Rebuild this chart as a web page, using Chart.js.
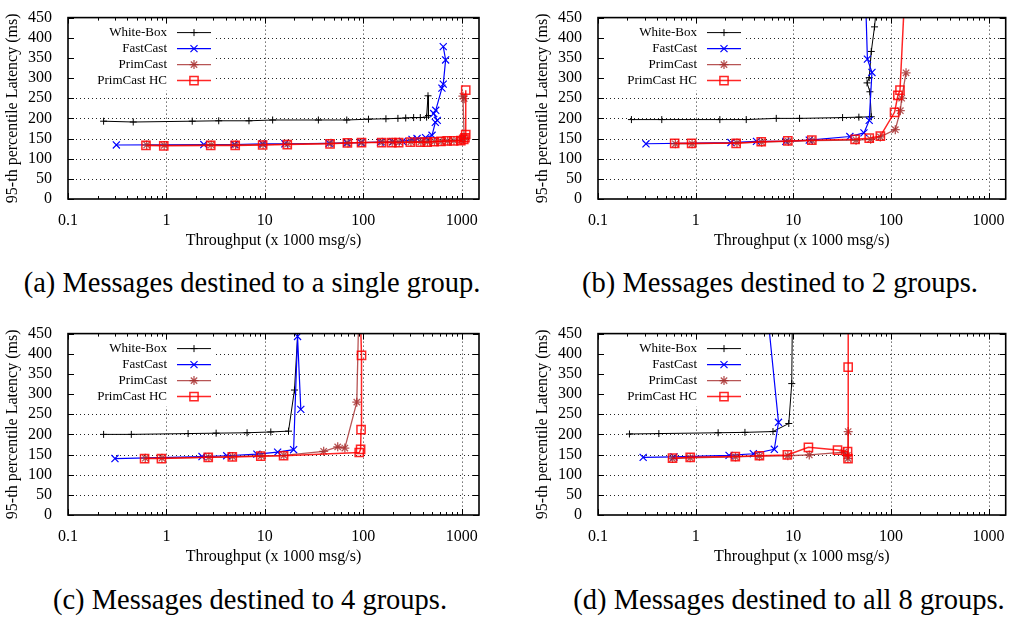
<!DOCTYPE html>
<html>
<head>
<meta charset="utf-8">
<script src="https://cdn.jsdelivr.net/npm/chart.js@4.4.1/dist/chart.umd.min.js"></script>
<style>
body{margin:0;background:#fff;width:1013px;height:621px;position:relative;overflow:hidden}
canvas{position:absolute}
.cap{position:absolute;font-family:'Liberation Serif',serif;font-size:28.5px;line-height:1;white-space:nowrap;transform:translateX(-50%);color:#000}
</style>
</head>
<body>
<canvas id="grafA" width="500" height="250" style="left:0;top:0"></canvas>
<canvas id="grafB" width="513" height="250" style="left:500px;top:0"></canvas>
<canvas id="grafC" width="500" height="250" style="left:0;top:316px"></canvas>
<canvas id="grafD" width="513" height="250" style="left:500px;top:316px"></canvas>
<div class="cap" style="left:252px;top:269px">(a) Messages destined to a single group.</div>
<div class="cap" style="left:780px;top:269px">(b) Messages destined to 2 groups.</div>
<div class="cap" style="left:250px;top:586px">(c) Messages destined to 4 groups.</div>
<div class="cap" style="left:789px;top:586px">(d) Messages destined to all 8 groups.</div>
<script>
// etiquetas y ticks
const seriesNames = ['White-Box', 'FastCast', 'PrimCast', 'PrimCast HC'];
const xTickValues = [0.1, 1, 10, 100, 1000];
const xTickLabels = ['0.1', '1', '10', '100', '1000'];
const yTickValues = [0, 50, 100, 150, 200, 250, 300, 350, 400, 450];

// (a) un solo grupo  [throughput, latencia]
const whiteBoxA = [[0.23,193],[0.46,191],[1.83,193],[3.4,194],[6.9,194],[12,196],[35,196],[68,196],[113,198],[170,199],[225,200],[270,201],[325,202],[380,202],[440,203],[455,256],[460,207]];
const fastCastA = [[0.31,134],[2.4,135],[4.9,135],[9.5,137],[16,137],[45,138],[68,139],[95,140],[150,141],[200,142],[250,143],[313,148],[352,150],[430,152],[500,158],[540,190],[565,195],[520,212],[545,220],[630,275],[650,285],[687,345],[650,378]];
const primCastA = [[0.63,134],[0.95,133],[2.85,134],[5.05,134],[9.6,135],[17,136],[47,138],[70,139],[97,140],[156,141],[197,141],[232,141],[305,142],[385,142],[450,142],[530,143],[620,143],[720,144],[835,145],[990,146],[1040,149],[1060,153],[1030,255],[1060,249]];
const primCastHcA = [[0.62,133],[0.94,132],[2.82,133],[5.0,133],[9.5,134],[16.9,135],[46,137],[69,139],[96,140],[154,140],[195,140],[229,140],[301,141],[381,141],[446,141],[524,142],[616,143],[711,144],[828,144],[980,145],[1050,148],[1080,152],[1100,160],[1100,270]];

// (b) 2 grupos
const whiteBoxB = [[0.22,197],[0.45,197],[1.77,197],[3.3,197],[6.7,200],[11.6,200],[32,202],[47,203],[63,204],[61,266],[57,288],[60,301],[63,366],[68,427],[72,490]];
const fastCastB = [[0.31,137],[2.3,140],[4.2,143],[8.4,143],[14.6,146],[38,155],[53,164],[60,195],[64,314],[57.5,347],[55,500]];
const primCastB = [[0.62,137],[0.92,137],[2.65,139],[4.75,141],[8.9,143],[15.6,145],[44,146],[62,148],[78,154],[111,172],[125,219],[129,250],[143,313]];
const primCastHcB = [[0.61,138],[0.91,138],[2.6,138],[4.7,142],[8.8,144],[15.5,146],[43,148],[60,151],[78,156],[109,215],[118,257],[124,270],[140,530]];

// (c) 4 grupos
const whiteBoxC = [[0.23,200],[0.44,200],[1.66,202],[3.2,203],[6.6,204],[11.5,206],[17.4,208],[20,310],[22.2,500]];
const fastCastC = [[0.3,140],[2.3,145],[4.1,147],[8.3,151],[13.5,156],[19.6,162],[21.5,443],[23.2,262]];
const primCastC = [[0.61,141],[0.9,141],[2.7,143],[4.7,145],[9.2,147],[15.6,148],[39.6,158],[55,169],[65,166],[86,280],[90,500]];
const primCastHcC = [[0.6,140],[0.89,140],[2.66,143],[4.67,144],[9.1,146],[15.5,147],[91,155],[94,163],[95,212],[96,396],[93,520]];

// (d) 8 grupos
const whiteBoxD = [[0.21,201],[0.42,202],[1.7,204],[3.2,205],[6.2,207],[9.0,227],[9.65,326],[9.8,500]];
const fastCastD = [[0.29,143],[0.6,144],[2.2,148],[3.9,152],[6.4,163],[7.06,230],[5.3,530]];
const primCastD = [[0.58,140],[0.88,142],[2.56,144],[4.5,146],[8.8,147],[14.6,149],[33,156],[35.8,148],[36.3,140],[36.5,207]];
const primCastHcD = [[0.58,141],[0.88,143],[2.55,145],[4.5,147],[8.7,149],[14.3,168],[28.4,161],[36,157],[36.4,140],[36.5,367],[36.6,520]];

const fuente = 'Liberation Serif';
Chart.defaults.font.family = fuente;
Chart.defaults.font.size = 16;
Chart.defaults.color = '#000';

const estilos = [
    {color: '#000000', point: 'cross', radius: 3.5, lw: 1, pw: 1},
    {color: '#0000ff', point: 'crossRot', radius: 5, lw: 1.2, pw: 1.2},
    {color: 'rgba(165,42,42,0.8)', point: 'star', radius: 4.5, lw: 1.3, pw: 1.3},
    {color: 'rgba(255,0,0,0.85)', point: 'rect', radius: 5.8, lw: 1.5, pw: 1.5}
];

const ticksMenores = () => {
    const t = [];
    xTickValues.forEach(v => {
        for (let m = 1; m < 10; m++) {
            if (v * m <= 1500) t.push(v * m);
        }
    });
    return t;
};

const esMayor = (v) => xTickValues.findIndex(t => Math.abs(t - v) < t * 1e-6);

const marcoGnuplot = {
    id: 'marcoGnuplot',
    beforeDatasetsDraw(chart) {
        const {ctx, chartArea: a, scales: {x, y}} = chart;
        ctx.save();
        // grilla punteada
        ctx.strokeStyle = '#222';
        ctx.lineWidth = 1;
        ctx.setLineDash([1, 3]);
        xTickValues.forEach(v => {
            const px = Math.round(x.getPixelForValue(v)) + 0.5;
            if (px < a.left + 2 || px > a.right - 2) return;
            ctx.beginPath(); ctx.moveTo(px, a.top); ctx.lineTo(px, a.bottom); ctx.stroke();
        });
        yTickValues.forEach(v => {
            const py = Math.round(y.getPixelForValue(v)) + 0.5;
            if (py < a.top + 2 || py > a.bottom - 2) return;
            ctx.beginPath(); ctx.moveTo(a.left, py); ctx.lineTo(a.right, py); ctx.stroke();
        });
        ctx.setLineDash([]);
        // leyenda
        ctx.fillStyle = '#fff';
        ctx.fillRect(a.left + 1, a.top + 1, 147, 72);
        ctx.font = '13px ' + fuente;
        ctx.textAlign = 'right';
        ctx.textBaseline = 'middle';
        seriesNames.forEach((nombre, i) => {
            const yy = a.top + 15 + 16 * i;
            const e = estilos[i];
            ctx.fillStyle = '#000';
            ctx.fillText(nombre, a.left + 99, yy);
            ctx.strokeStyle = e.color;
            ctx.lineWidth = e.lw;
            ctx.beginPath(); ctx.moveTo(a.left + 109, yy); ctx.lineTo(a.left + 143, yy); ctx.stroke();
            ctx.fillStyle = 'rgba(0,0,0,0)';
            ctx.lineWidth = e.pw;
            Chart.helpers.drawPoint(ctx, {pointStyle: e.point, radius: e.radius, rotation: 0, borderWidth: e.pw}, a.left + 126, yy);
        });
        ctx.restore();
    },
    afterDatasetsDraw(chart) {
        const {ctx, chartArea: a, scales: {x, y}} = chart;
        ctx.save();
        ctx.strokeStyle = '#000';
        ctx.lineWidth = 1;
        ticksMenores().forEach(v => {
            const px = Math.round(x.getPixelForValue(v)) + 0.5;
            const largo = esMayor(v) >= 0 ? 6 : 3;
            ctx.beginPath();
            ctx.moveTo(px, a.bottom); ctx.lineTo(px, a.bottom - largo);
            ctx.moveTo(px, a.top); ctx.lineTo(px, a.top + largo);
            ctx.stroke();
        });
        yTickValues.forEach(v => {
            const py = Math.round(y.getPixelForValue(v)) + 0.5;
            ctx.beginPath();
            ctx.moveTo(a.left, py); ctx.lineTo(a.left + 6, py);
            ctx.moveTo(a.right, py); ctx.lineTo(a.right - 6, py);
            ctx.stroke();
        });
        ctx.lineWidth = 1.6;
        ctx.strokeRect(a.left, a.top, a.right - a.left, a.bottom - a.top);
        ctx.restore();
    }
};

const crearGrafico = (id, series, padLeft, padRight) => {
    const datasets = series.map((serie, i) => ({
        label: seriesNames[i],
        data: serie.map(([x, y]) => ({x, y})),
        borderColor: estilos[i].color,
        backgroundColor: 'rgba(0,0,0,0)',
        borderWidth: estilos[i].lw,
        pointStyle: estilos[i].point,
        pointRadius: estilos[i].radius,
        pointBorderWidth: estilos[i].pw,
        pointBorderColor: estilos[i].color,
        pointBackgroundColor: 'rgba(0,0,0,0)',
        tension: 0,
        clip: 0,
        order: 4 - i
    }));

    return new Chart(document.getElementById(id), {
        type: 'line',
        data: {datasets},
        options: {
            responsive: false,
            animation: false,
            events: [],
            layout: {padding: {left: padLeft, right: padRight, top: 8, bottom: 0}},
            plugins: {legend: {display: false}, tooltip: {enabled: false}},
            scales: {
                x: {
                    type: 'logarithmic',
                    min: 0.1,
                    max: 1500,
                    afterBuildTicks: (s) => { s.ticks = ticksMenores().map(v => ({value: v})) },
                    afterFit: (s) => { s.height = 51 },
                    grid: {display: false},
                    border: {display: false},
                    ticks: {
                        autoSkip: false,
                        maxRotation: 0,
                        padding: 4,
                        callback: (v) => {
                            const k = esMayor(v);
                            return k >= 0 ? xTickLabels[k] : '';
                        }
                    },
                    title: {display: true, text: 'Throughput (x 1000 msg/s)', padding: {top: 0, bottom: 0}}
                },
                y: {
                    min: 0,
                    max: 450,
                    afterBuildTicks: (s) => { s.ticks = yTickValues.map(v => ({value: v})) },
                    afterFit: (s) => { s.width = 68 },
                    grid: {display: false},
                    border: {display: false},
                    ticks: {autoSkip: false, padding: 8},
                    title: {display: true, text: '95-th percentile Latency (ms)', padding: {top: 3, bottom: 0}}
                }
            }
        },
        plugins: [marcoGnuplot]
    });
};

crearGrafico('grafA', [whiteBoxA, fastCastA, primCastA, primCastHcA], 0, 21);
crearGrafico('grafB', [whiteBoxB, fastCastB, primCastB, primCastHcB], 30, 3);
crearGrafico('grafC', [whiteBoxC, fastCastC, primCastC, primCastHcC], 0, 21);
crearGrafico('grafD', [whiteBoxD, fastCastD, primCastD, primCastHcD], 30, 3);
</script>
</body>
</html>
